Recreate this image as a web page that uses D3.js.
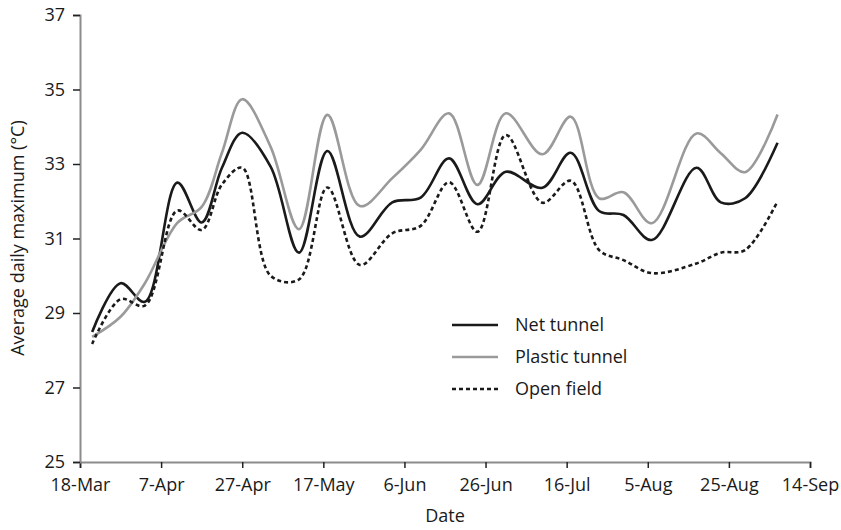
<!DOCTYPE html>
<html>
<head>
<meta charset="utf-8">
<script src="https://cdn.jsdelivr.net/npm/d3@7"></script>
<style>
  html, body { margin: 0; padding: 0; background: #fff; }
  svg { display: block; font-family: "Open Sans", "DejaVu Sans", sans-serif; }
</style>
</head>
<body>
<svg id="chart" width="841" height="530"></svg>
<script>
// Sampling dates (weekly readings, 2010 season)
const dates = [
  "2010-03-21", "2010-03-28", "2010-04-03", "2010-04-11", "2010-04-17",
  "2010-04-22", "2010-04-27", "2010-05-04", "2010-05-11", "2010-05-18",
  "2010-05-26", "2010-06-03", "2010-06-10", "2010-06-17", "2010-06-24",
  "2010-07-01", "2010-07-10", "2010-07-17", "2010-07-24", "2010-07-30",
  "2010-08-06", "2010-08-17", "2010-08-23", "2010-08-29", "2010-09-06"
];

// Average daily maximum temperature (°C)
const netTunnel = [
  28.49, 29.80, 29.30, 32.50, 31.43,
  32.90, 33.84, 32.93, 30.62, 33.35,
  31.05, 31.97, 32.10, 33.15, 31.92,
  32.79, 32.36, 33.30, 31.74, 31.63,
  30.96, 32.90, 31.97, 32.08, 33.57
];
const plasticTunnel = [
  28.36, 28.90, 29.80, 31.42, 31.85,
  33.30, 34.74, 33.46, 31.25, 34.32,
  31.87, 32.62, 33.38, 34.36, 32.44,
  34.36, 33.26, 34.27, 32.08, 32.24,
  31.41, 33.82, 33.29, 32.78, 34.33
];
const openField = [
  28.17, 29.37, 29.20, 31.75, 31.23,
  32.45, 32.90, 30.00, 29.90, 32.37,
  30.29, 31.14, 31.34, 32.51, 31.18,
  33.78, 31.96, 32.55, 30.69, 30.42,
  30.07, 30.33, 30.62, 30.69, 32.00
];

const seriesNames = ["Net tunnel", "Plastic tunnel", "Open field"];

// Axis ticks
const xTickDates = [
  "2010-03-18", "2010-04-07", "2010-04-27", "2010-05-17", "2010-06-06",
  "2010-06-26", "2010-07-16", "2010-08-05", "2010-08-25", "2010-09-14"
];
const yTicks = [25, 27, 29, 31, 33, 35, 37];

const xTitle = "Date";
const yTitle = "Average daily maximum (°C)";

const parse = d3.timeParse("%Y-%m-%d");
const dateVals = dates.map(parse);
const xTickVals = xTickDates.map(parse);

const svg = d3.select("#chart");

const x = d3.scaleTime()
  .domain([xTickVals[0], xTickVals[xTickVals.length - 1]])
  .range([80, 810]);
const y = d3.scaleLinear()
  .domain([25, 37])
  .range([462, 15]);

const styles = [
  { color: "#1a1a1a", dash: null },
  { color: "#9a9a9a", dash: null },
  { color: "#1a1a1a", dash: "4,3" }
];
const seriesValues = [netTunnel, plasticTunnel, openField];

// Axes
const xAxis = svg.append("g")
  .attr("transform", "translate(0,462)")
  .call(d3.axisBottom(x)
    .tickValues(xTickVals)
    .tickFormat(d3.timeFormat("%-d-%b"))
    .tickSize(6)
    .tickPadding(10));
const yAxis = svg.append("g")
  .attr("transform", "translate(80,0)")
  .call(d3.axisLeft(y)
    .tickValues(yTicks)
    .tickSize(7)
    .tickPadding(8));

[xAxis, yAxis].forEach(g => {
  g.select(".domain").attr("stroke", "#8c8c8c").attr("stroke-width", 2);
  g.selectAll(".tick line").attr("stroke", "#222").attr("stroke-width", 1.5);
  g.selectAll(".tick text")
    .attr("fill", "#1a1a1a")
    .style("font-size", "18px")
    .style("font-family", "'Open Sans', sans-serif");
});

// Axis titles
svg.append("text")
  .attr("x", 445)
  .attr("y", 522)
  .attr("text-anchor", "middle")
  .attr("fill", "#1a1a1a")
  .style("font-size", "18px")
  .text(xTitle);
svg.append("text")
  .attr("transform", "translate(24,238) rotate(-90)")
  .attr("text-anchor", "middle")
  .attr("fill", "#1a1a1a")
  .style("font-size", "18px")
  .text(yTitle);

// Series lines
const line = d3.line()
  .x((d, i) => x(dateVals[i]))
  .y(d => y(d))
  .curve(d3.curveCatmullRom.alpha(0.5));

seriesValues.forEach((vals, k) => {
  svg.append("path")
    .datum(vals)
    .attr("fill", "none")
    .attr("stroke", styles[k].color)
    .attr("stroke-width", 2.6)
    .attr("stroke-dasharray", styles[k].dash)
    .attr("d", line);
});

// Legend
const legend = svg.append("g");
seriesNames.forEach((name, k) => {
  const ly = 325 + k * 32;
  legend.append("line")
    .attr("x1", 452).attr("x2", 498)
    .attr("y1", ly).attr("y2", ly)
    .attr("stroke", styles[k].color)
    .attr("stroke-width", 2.6)
    .attr("stroke-dasharray", styles[k].dash);
  legend.append("text")
    .attr("x", 515)
    .attr("y", ly)
    .attr("dy", "0.35em")
    .attr("fill", "#1a1a1a")
    .style("font-size", "18px")
    .text(name);
});
</script>
</body>
</html>
